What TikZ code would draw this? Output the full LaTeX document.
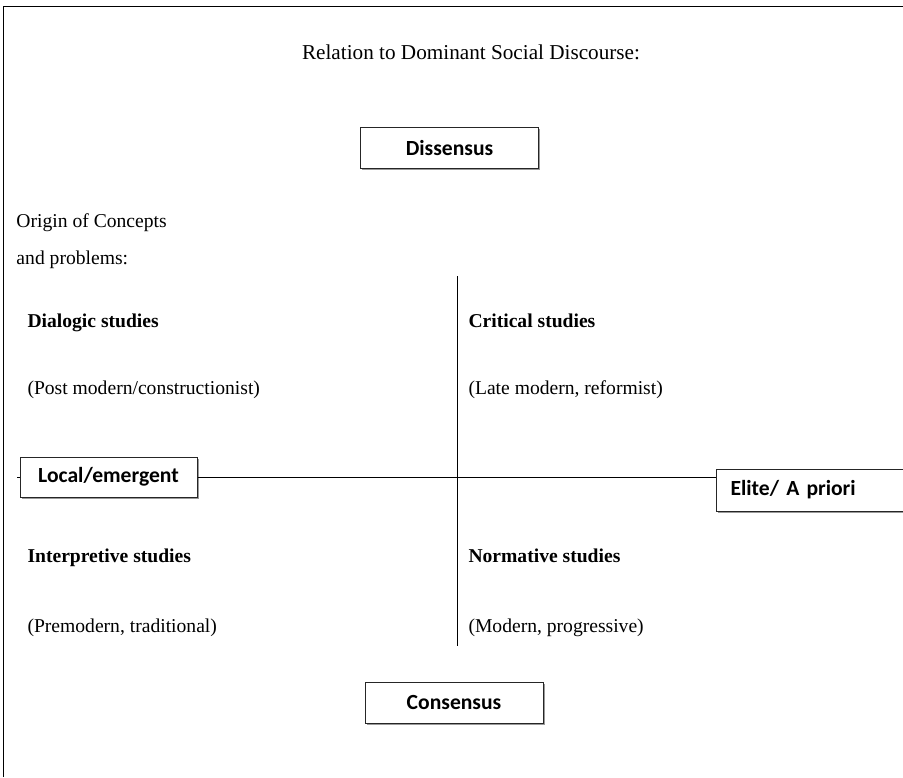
\documentclass[tikz,border=0pt]{standalone}
\usepackage{fontspec}
\setmainfont{Liberation Serif}
\newfontfamily\boxfont{Carlito}
\usetikzlibrary{shadows}

\tikzset{
    labelbox/.style={draw=black!85, fill=white, line width=0.5pt,
        font=\boxfont\bfseries\fontsize{10.8}{13}\selectfont,
        drop shadow={shadow xshift=0.8pt, shadow yshift=-0.8pt, fill=black!40, opacity=1}},
    plain/.style={anchor=west, inner sep=0pt, text height=1.6ex, text depth=0.4ex,
        font=\fontsize{9.8}{12}\selectfont},
    head/.style={plain, font=\fontsize{9.8}{12}\selectfont\bfseries}
}

\begin{document}
\begin{tikzpicture}[x=0.5pt, y=-0.5pt, line width=0.5pt]
    \clip (0,0) rectangle (903,777);
    % Frame
    \draw (3,777) -- (3,6) -- (903,6);
    % Titles
    \node[font=\fontsize{10.6}{13}\selectfont, inner sep=0pt, text height=1.6ex, text depth=0.4ex] (title) at (471,54) {Relation to Dominant Social Discourse:};
    \node[plain] (origin1) at (16,222) {Origin of Concepts};
    \node[plain] (origin2) at (16,259) {and problems:};
    % Axes
    \coordinate (vtop) at (457.5,276);
    \coordinate (vbot) at (457.5,646);
    \coordinate (hleft) at (17,477);
    \draw (vtop) -- (vbot);
    \node[labelbox, minimum width=178*0.5pt, minimum height=41*0.5pt] (dissensus) at (449.5,147.5) {Dissensus};
    \node[labelbox, minimum width=178*0.5pt, minimum height=41*0.5pt] (consensus) at (454,702.5) {Consensus};
    \node[labelbox, minimum width=177*0.5pt, minimum height=40*0.5pt] (local) at (108.5,477) {Local/emergent};
    \node[labelbox, anchor=west, minimum width=200*0.5pt, minimum height=42*0.5pt,
        text width=172*0.5pt, align=left, inner xsep=6.5pt] (elite) at (716,490) {Elite/ A priori};
    \draw (hleft) -- (local.west);
    \draw (local.east) -- (elite.west |- local.east);
    % Quadrants
    \node[head] (dialogic) at (27,322) {Dialogic studies};
    \node[plain] (dialogicsub) at (27,389) {(Post modern/constructionist)};
    \node[head] (critical) at (468,322) {Critical studies};
    \node[plain] (criticalsub) at (468,389) {(Late modern, reformist)};
    \node[head] (interp) at (27,557) {Interpretive studies};
    \node[plain] (interpsub) at (27,627) {(Premodern, traditional)};
    \node[head] (normative) at (468,557) {Normative studies};
    \node[plain] (normativesub) at (468,627) {(Modern, progressive)};
\end{tikzpicture}
\end{document}
